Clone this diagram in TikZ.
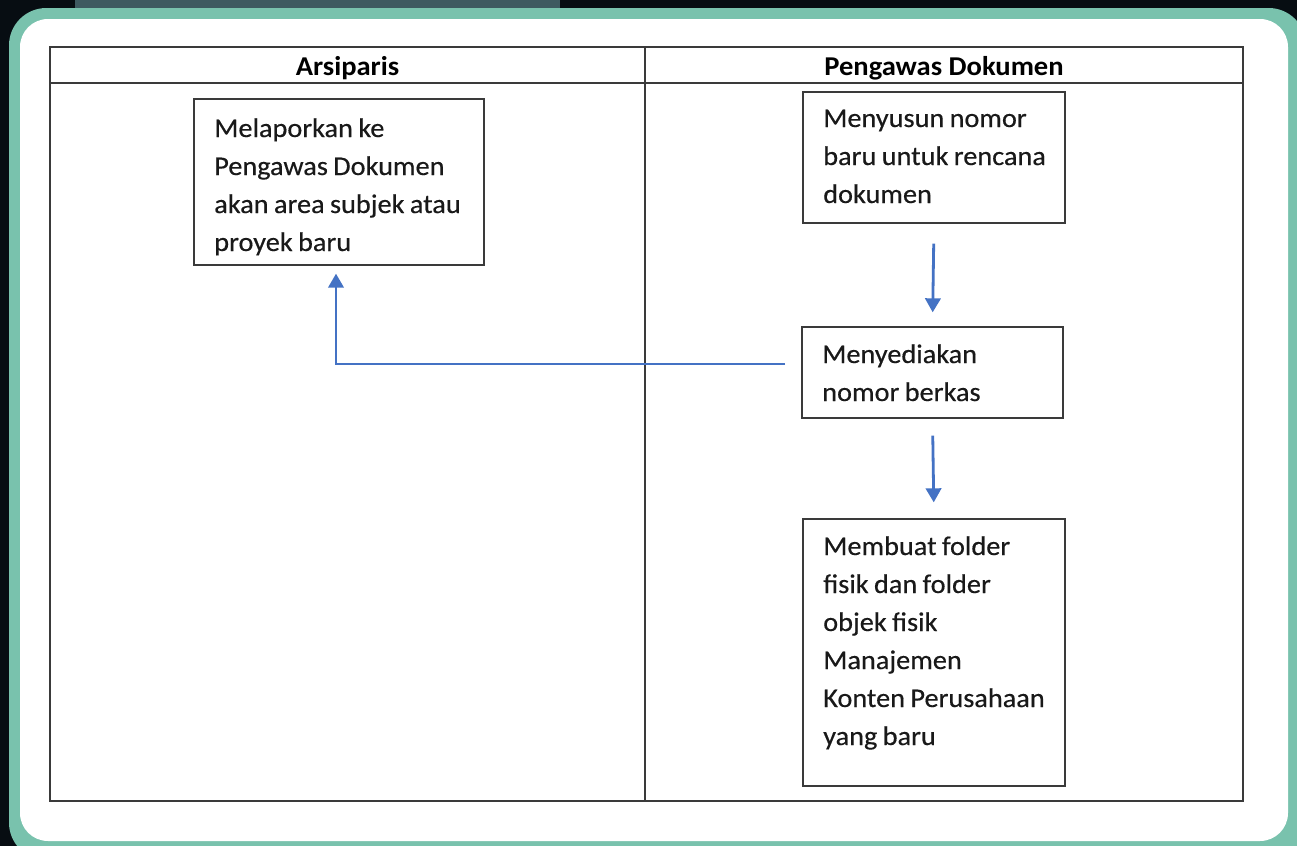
\documentclass[tikz,border=0pt]{standalone}
\usepackage{fontspec}
\setmainfont{Carlito}[FakeStretch=1.05]
\newfontfamily\bodyfont{Carlito}[FakeStretch=1.05,FakeBold=0.4]
\usetikzlibrary{arrows.meta,fit,calc}
\def\mytightsp{\spaceskip=0.2em\relax}
\definecolor{teal1}{HTML}{79C2AD}
\definecolor{bgdark}{HTML}{070D12}
\definecolor{bgmid}{HTML}{3E5A60}
\definecolor{arrowblue}{HTML}{4472C4}
\definecolor{linegray}{HTML}{3A3A3A}
\tikzset{
  stepbox/.style={draw=linegray, line width=1pt, inner sep=0pt, fit={#1}},
  txt/.style={anchor=base west, inner sep=0pt, text width=225pt, align=left,
    font=\bodyfont\fontsize{20.2}{28.5}\selectfont, text=black!90},
  head/.style={anchor=base, inner sep=0pt, font=\bfseries\fontsize{20.4}{28.5}\selectfont, text=black},
  flow/.style={draw=arrowblue, line width=2.1pt, -{Triangle[width=11.5pt,length=10.5pt]}},
  tbl/.style={draw=linegray, line width=1.1pt}
}
\begin{document}
\begin{tikzpicture}[x=0.75pt,y=-0.75pt]
\useasboundingbox (0,0) rectangle (1297,846);
% background
\fill[bgdark] (0,0) rectangle (1297,846);
\fill[bgmid] (75,0) rectangle (560,8);
\fill[teal1, rounded corners=28pt] (9,8) rectangle (1306,860);
\fill[white, rounded corners=21pt] (20,19) rectangle (1288,841);
% table
\draw[tbl] (50,47) rectangle (1243,801);
\draw[tbl] (50,83) -- (1243,83);
\draw[tbl] (645,47) -- (645,801);
\node[head] (h1) at (347.5,75) {Arsiparis};
\node[head] (h2) at (944,75) {Pengawas Dokumen};
% boxes
\node[stepbox={(194,99) (484,265)}] (b1) {};
\node[stepbox={(803,92) (1065,223)}] (b2) {};
\node[stepbox={(802,327) (1063,418)}] (b3) {};
\node[stepbox={(803,519) (1065,786)}] (b4) {};
\node[txt] (t1) at (214,137) {\mytightsp Melaporkan ke\\Pengawas Dokumen\\akan area subjek atau\\proyek baru};
\node[txt] (t2) at (823,127) {\mytightsp Menyusun nomor\\baru untuk rencana\\dokumen};
\node[txt] (t3) at (822,363) {\mytightsp Menyediakan\\nomor berkas};
\node[txt] (t4) at (823,555) {\mytightsp Membuat folder\\fisik dan folder\\objek fisik\\Manajemen\\Konten Perusahaan\\yang baru};
% connectors
\draw[flow, shorten <=15pt, shorten >=10.5pt] (b2.south) -- (b3.north);
\draw[flow, shorten <=12.75pt, shorten >=12pt] (b3.south) -- (b4.north);
\coordinate (e1) at (785,364);
\coordinate (e2) at (336,265);
\draw[flow, shorten >=6.5pt] (e1) -| (e2);
\end{tikzpicture}
\end{document}
